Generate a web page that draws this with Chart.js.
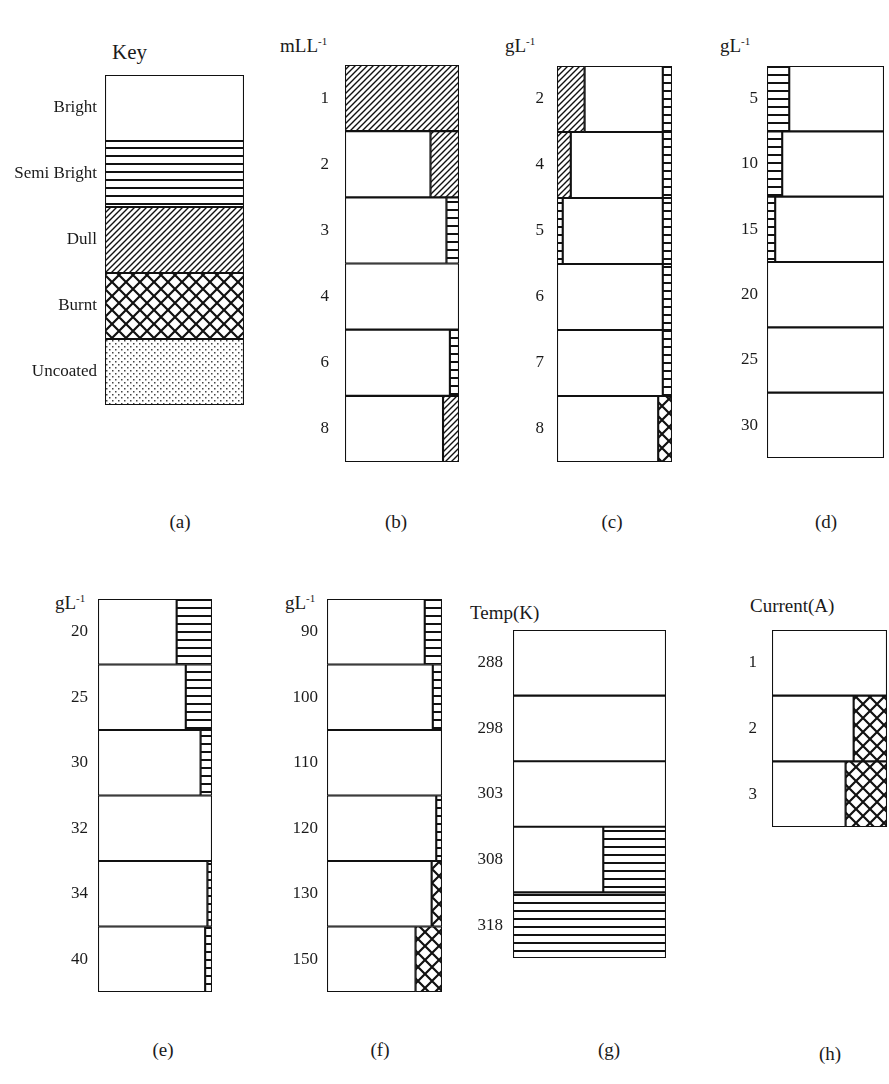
<!DOCTYPE html>
<html>
<head>
<meta charset="utf-8">
<script src="https://cdn.jsdelivr.net/npm/chart.js@4.4.0/dist/chart.umd.min.js"></script>
<style>
body { margin: 0; background: #fff; width: 889px; height: 1084px; position: relative; overflow: hidden; font-family: "Liberation Serif", serif; color: #1a1a1a; }
canvas { position: absolute; }
.txt { position: absolute; white-space: nowrap; font-size: 19px; transform: translateY(-50%); }
.cap { position: absolute; white-space: nowrap; font-size: 19px; transform: translate(-50%, -50%); }
sup { font-size: 11px; }
</style>
</head>
<body>
<div class="txt" style="left:112px;top:52px;font-size:21px">Key</div>
<div class="txt" style="left:280px;top:46px">mLL<sup>-1</sup></div>
<div class="txt" style="left:505px;top:46px">gL<sup>-1</sup></div>
<div class="txt" style="left:720px;top:46px">gL<sup>-1</sup></div>
<div class="txt" style="left:55px;top:603px">gL<sup>-1</sup></div>
<div class="txt" style="left:285px;top:603px">gL<sup>-1</sup></div>
<div class="txt" style="left:470px;top:613px">Temp(K)</div>
<div class="txt" style="left:750px;top:606px">Current(A)</div>
<div class="cap" style="left:180px;top:522px">(a)</div>
<div class="cap" style="left:396px;top:522px">(b)</div>
<div class="cap" style="left:612px;top:522px">(c)</div>
<div class="cap" style="left:826px;top:522px">(d)</div>
<div class="cap" style="left:163px;top:1050px">(e)</div>
<div class="cap" style="left:380px;top:1050px">(f)</div>
<div class="cap" style="left:609px;top:1050px">(g)</div>
<div class="cap" style="left:830px;top:1054px">(h)</div>
<script>
// key
const keyLabels = ["Bright", "Semi Bright", "Dull", "Burnt", "Uncoated"];
const keyValues = [100, 100, 100, 100, 100];

// (b) mL/L
const bLabels = ["1", "2", "3", "4", "6", "8"];
const bBright = [null, 75, 89, 100, 92, 86];
const bSemi = [null, null, 11, null, 8, null];
const bDull = [100, 25, null, null, null, 14];

// (c) g/L
const cLabels = ["2", "4", "5", "6", "7", "8"];
const cDullLeft = [24, 12, null, null, null, null];
const cSemiLeft = [null, null, 5, null, null, null];
const cBright = [68, 80, 87, 92, 92, 88];
const cSemiRight = [8, 8, 8, 8, 8, null];
const cBurnt = [null, null, null, null, null, 12];

// (d) g/L
const dLabels = ["5", "10", "15", "20", "25", "30"];
const dSemi = [19, 13, 7, null, null, null];
const dBright = [81, 87, 93, 100, 100, 100];

// (e) g/L
const eLabels = ["20", "25", "30", "32", "34", "40"];
const eBright = [69, 77, 90, 100, 96, 94];
const eSemi = [31, 23, 10, null, 4, 6];

// (f) g/L
const fLabels = ["90", "100", "110", "120", "130", "150"];
const fBright = [85, 92, 100, 95, 91, 77];
const fSemi = [15, 8, null, 5, null, null];
const fBurnt = [null, null, null, null, 9, 23];

// (g) temperature
const gLabels = ["288", "298", "303", "308", "318"];
const gBright = [100, 100, 100, 59, null];
const gSemi = [null, null, null, 41, 100];

// (h) current
const hLabels = ["1", "2", "3"];
const hBright = [100, 71, 64];
const hBurnt = [null, 29, 36];

//Patterns
function tile(w, h, draw) {
	const c = document.createElement("canvas");
	c.width = w;
	c.height = h;
	const ctx = c.getContext("2d");
	ctx.fillStyle = "#fff";
	ctx.fillRect(0, 0, w, h);
	ctx.strokeStyle = "#111";
	ctx.fillStyle = "#111";
	draw(ctx);
	return document.createElement("canvas").getContext("2d").createPattern(c, "repeat");
}
const fills = {
	bright: "#ffffff",
	semi: tile(8, 8, (ctx) => {
		ctx.fillRect(0, 3, 8, 2);
	}),
	dull: tile(6, 6, (ctx) => {
		ctx.lineWidth = 1.4;
		ctx.beginPath();
		ctx.moveTo(-1, 7);
		ctx.lineTo(7, -1);
		ctx.moveTo(-4, 4);
		ctx.lineTo(4, -4);
		ctx.moveTo(2, 10);
		ctx.lineTo(10, 2);
		ctx.stroke();
	}),
	burnt: tile(14, 14, (ctx) => {
		ctx.lineWidth = 2.2;
		ctx.beginPath();
		ctx.moveTo(-2, 16);
		ctx.lineTo(16, -2);
		ctx.moveTo(-2, -2);
		ctx.lineTo(16, 16);
		ctx.stroke();
	}),
	uncoated: tile(6, 6, (ctx) => {
		ctx.fillStyle = "#444";
		ctx.fillRect(1, 1, 1.5, 1.5);
		ctx.fillRect(4, 4, 1.5, 1.5);
	}),
};

function set(values, kind) {
	return {
		data: values,
		backgroundColor: fills[kind],
		borderColor: "#111",
		borderWidth: 1.4,
		borderSkipped: false,
		barPercentage: 1,
		categoryPercentage: 1,
	};
}

// box: [left, top, width, height] of the bar area; lab: width left for tick labels
function panel(labels, datasets, box, lab, gap) {
	const pad = 3;
	const cv = document.createElement("canvas");
	cv.width = box[2] + lab + pad;
	cv.height = box[3] + 2 * pad;
	cv.style.left = box[0] - lab + "px";
	cv.style.top = box[1] - pad + "px";
	cv.style.width = cv.width + "px";
	cv.style.height = cv.height + "px";
	document.body.appendChild(cv);
	new Chart(cv, {
		type: "bar",
		data: { labels: labels, datasets: datasets },
		options: {
			indexAxis: "y",
			responsive: false,
			animation: false,
			events: [],
			layout: { padding: { top: pad, bottom: pad, right: pad, left: 0 } },
			plugins: { legend: { display: false }, tooltip: { enabled: false } },
			scales: {
				x: { stacked: true, min: 0, max: 100, display: false },
				y: {
					stacked: true,
					grid: { display: false, drawTicks: false },
					border: { display: false },
					ticks: {
						padding: gap,
						color: "#1a1a1a",
						font: { family: "Liberation Serif", size: 17 },
					},
					afterFit: (s) => {
						s.width = lab;
						// labels sit inside their rows, no extra room needed
						s.paddingTop = 0;
						s.paddingBottom = 0;
					},
				},
			},
		},
	});
}

const keySet = set(keyValues, "bright");
keySet.backgroundColor = [fills.bright, fills.semi, fills.dull, fills.burnt, fills.uncoated];
panel(keyLabels, [keySet], [105, 75, 139, 330], 105, 8);

panel(bLabels, [set(bBright, "bright"), set(bSemi, "semi"), set(bDull, "dull")], [345, 65, 114, 397], 70, 16);

panel(cLabels, [set(cDullLeft, "dull"), set(cSemiLeft, "semi"), set(cBright, "bright"), set(cSemiRight, "semi"), set(cBurnt, "burnt")], [557, 66, 115, 396], 70, 13);

panel(dLabels, [set(dSemi, "semi"), set(dBright, "bright")], [767, 66, 117, 392], 70, 9);

panel(eLabels, [set(eBright, "bright"), set(eSemi, "semi")], [98, 599, 114, 393], 70, 10);

panel(fLabels, [set(fBright, "bright"), set(fSemi, "semi"), set(fBurnt, "burnt")], [327, 599, 115, 393], 70, 9);

panel(gLabels, [set(gBright, "bright"), set(gSemi, "semi")], [513, 630, 153, 328], 70, 10);

panel(hLabels, [set(hBright, "bright"), set(hBurnt, "burnt")], [772, 630, 115, 197], 70, 15);
</script>
</body>
</html>
